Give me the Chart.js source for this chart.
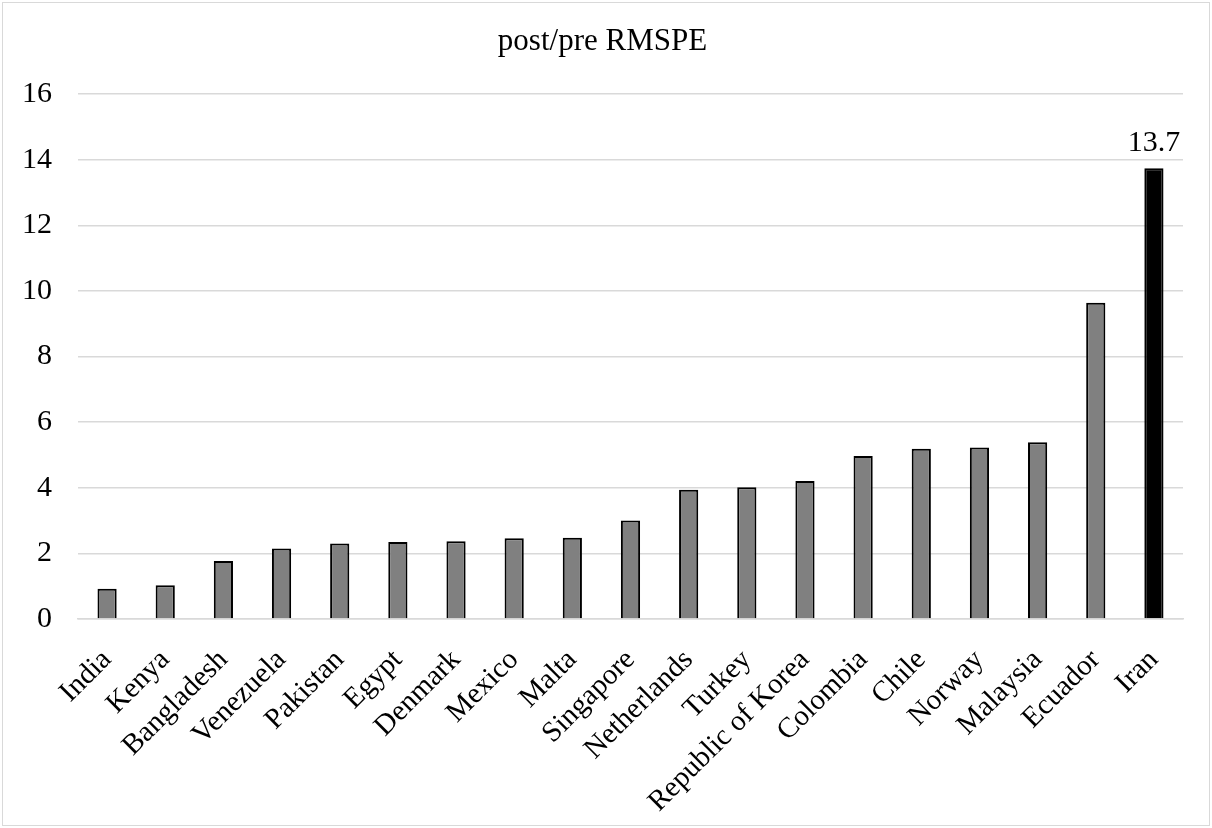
<!DOCTYPE html>
<html>
<head>
<meta charset="utf-8">
<script src="https://cdn.jsdelivr.net/npm/chart.js@4/dist/chart.umd.min.js"></script>
<style>
  html, body { margin: 0; padding: 0; background: #fff; }
  #wrap { position: relative; width: 1208px; height: 824px; margin: 2px; border: 1px solid #d9d9d9; box-sizing: border-box; }
</style>
</head>
<body>
<div id="wrap"><canvas id="rmspe"></canvas></div>
<script>
// categories and values
const countries = ['India', 'Kenya', 'Bangladesh', 'Venezuela', 'Pakistan', 'Egypt', 'Denmark', 'Mexico', 'Malta',
    'Singapore', 'Netherlands', 'Turkey', 'Republic of Korea', 'Colombia', 'Chile', 'Norway', 'Malaysia', 'Ecuador', 'Iran'];
const ratios = [0.92, 1.03, 1.77, 2.15, 2.30, 2.35, 2.37, 2.46, 2.48,
    3.00, 3.94, 4.02, 4.21, 4.97, 5.19, 5.23, 5.39, 9.64, 13.74];
const yTicks = [0, 2, 4, 6, 8, 10, 12, 14, 16];
const highlight = 'Iran';

const serif = "'Liberation Serif', 'Times New Roman', serif";

// value label above the highlighted bar only
const barLabel = {
    id: 'barLabel',
    afterDatasetsDraw(chart) {
        const meta = chart.getDatasetMeta(0);
        const idx = countries.indexOf(highlight);
        const bar = meta.data[idx];
        const ctx = chart.ctx;
        ctx.save();
        ctx.font = `30px ${serif}`;
        ctx.fillStyle = '#000';
        ctx.textAlign = 'center';
        ctx.textBaseline = 'alphabetic';
        ctx.fillText(ratios[idx].toFixed(1), bar.x, bar.y - 17);
        ctx.restore();
    }
};

const ctx = document.getElementById('rmspe').getContext('2d');
const chart = new Chart(ctx, {
    type: 'bar',
    data: {
        labels: countries,
        datasets: [{
            label: 'post/pre RMSPE',
            data: ratios,
            backgroundColor: countries.map(c => c === highlight ? '#000000' : '#808080'),
            borderColor: '#000000',
            borderWidth: 2,
            categoryPercentage: 1,
            barPercentage: 0.33
        }]
    },
    options: {
        responsive: true,
        maintainAspectRatio: false,
        animation: false,
        layout: { padding: { left: 19, right: 26, top: 10, bottom: 0 } },
        plugins: {
            legend: { display: false },
            tooltip: { enabled: false },
            title: {
                display: true,
                text: 'post/pre RMSPE',
                color: '#000',
                font: { family: serif, size: 31, weight: 'normal' },
                padding: { top: 10, bottom: 34 }
            }
        },
        scales: {
            x: {
                grid: { display: false },
                border: { color: '#d9d9d9', width: 1.5 },
                // rotated labels may run under the y labels, as in the original
                afterFit: scale => { scale.paddingLeft = 0; scale.height = 206; },
                ticks: {
                    color: '#000',
                    font: { family: serif, size: 29 },
                    maxRotation: 45,
                    minRotation: 45,
                    autoSkip: false,
                    padding: 16
                }
            },
            y: {
                min: 0,
                max: 16,
                afterBuildTicks: axis => { axis.ticks = yTicks.map(v => ({ value: v })); },
                afterFit: scale => { scale.width = 56; },
                grid: { color: '#d9d9d9', lineWidth: 1.5, drawTicks: false },
                border: { display: false },
                ticks: {
                    color: '#000',
                    font: { family: serif, size: 30 },
                    padding: 26
                }
            }
        }
    },
    plugins: [barLabel]
});
</script>
</body>
</html>
